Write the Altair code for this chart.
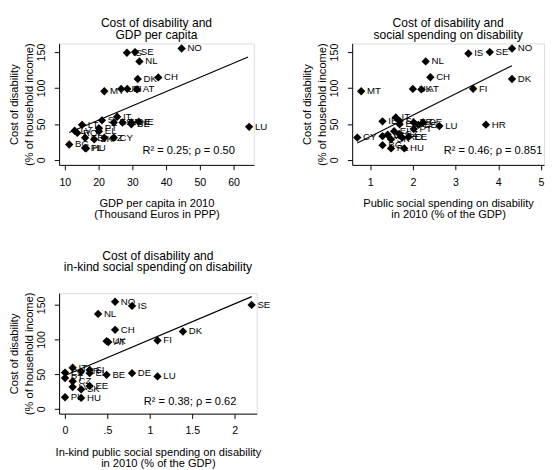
import altair as alt
import pandas as pd

FONT = "Liberation Sans"

# ---------------- data ----------------
# Panel 1: GDP per capita (thousand euros PPP) vs cost of disability
p1_codes = ["IS", "SE", "NO", "NL", "DK", "CH", "AT", "MT", "UK", "FI", "LU",
            "SI", "IT", "ES", "FR", "BE", "DE", "IE", "LT", "LV", "RO", "EE",
            "PT", "EL", "SK", "CZ", "CY", "BG", "PL", "HU"]
p1_gdp = [28.4, 30.8, 44.6, 32.1, 31.6, 37.7, 31.4, 21.7, 26.7, 28.5, 64.6,
          21.0, 25.5, 24.5, 27.1, 29.7, 29.7, 31.9, 15.1, 12.9, 13.7, 16.0,
          20.1, 20.1, 18.7, 21.7, 24.5, 11.3, 16.0, 16.3]
p1_cost = [149, 150, 155, 137, 112.5, 114.7, 98, 95.5, 98.7, 98.7, 46,
           55, 60, 52, 52, 49.5, 52, 53, 48.7, 40.6, 37.5, 30.8,
           44, 39.7, 28.6, 30.8, 30.8, 21.4, 16.5, 16]
p1_fit_x = [11.3, 64.3]
p1_fit_y = [38, 143]

# Panel 2: public social spending on disability (% GDP)
p2_codes = ["NO", "SE", "IS", "NL", "CH", "DK", "FI", "UK", "AT", "MT", "HR",
            "LU", "CY", "IE", "IT", "SI", "ES", "FR", "DE", "BE", "PT", "LV",
            "LT", "EL", "CZ", "SK", "RO", "EE", "BG", "PL", "HU"]
p2_spend = [4.32, 3.80, 3.30, 2.30, 2.41, 4.32, 3.41, 2.00, 2.20, 0.79, 3.71,
            2.62, 0.70, 1.29, 1.60, 1.69, 1.69, 2.02, 2.24, 2.13, 2.02, 1.29,
            1.41, 1.56, 1.68, 1.49, 1.75, 1.90, 1.29, 1.49, 1.80]
p2_cost = [155, 150, 148, 137, 115, 112.5, 99, 98.7, 98, 95.5, 49,
           47, 31, 53.6, 59, 54, 49.5, 52, 52, 48.7, 43, 33,
           35, 40, 36, 28.6, 31, 32, 20.5, 16, 16]
p2_fit_x = [0.70, 4.32]
p2_fit_y = [23.6, 131]

# Panel 3: in-kind public social spending on disability (% GDP)
p3_codes = ["NO", "IS", "SE", "NL", "CH", "DK", "FI", "UK", "AT", "BE", "DE",
            "LU", "IT", "FR", "SI", "EL", "ES", "PT", "CZ", "LV", "SK", "EE",
            "PL", "HU"]
p3_inkind = [0.59, 0.79, 2.20, 0.39, 0.59, 1.39, 1.09, 0.49, 0.51, 0.49, 0.79,
             1.09, 0.09, 0.19, 0.29, 0.29, 0.00, 0.00, 0.09, 0.09, 0.19, 0.29,
             0.00, 0.19]
p3_cost = [154.6, 148.6, 150, 137, 114, 111.6, 98.6, 97.7, 96.3, 49, 51.4,
           46.8, 59.3, 53.7, 56, 51.4, 52.3, 44.4, 39.8, 31.5, 28, 33,
           16.7, 15.7]
p3_fit_x = [0.0, 2.2]
p3_fit_y = [48, 162]

titles = [["Cost of disability and", "GDP per capita"],
          ["Cost of disability and", "social spending on disability"],
          ["Cost of disability and", "in-kind social spending on disability"]]
x_titles = [["GDP per capita in 2010", "(Thousand Euros in PPP)"],
            ["Public social spending on disability", "in 2010 (% of the GDP)"],
            ["In-kind public social spending on disability", "in 2010 (% of the GDP)"]]
y_title = ["Cost of disability", "(% of household income)"]
annotations = ["R\u00b2 = 0.25; \u03c1 = 0.50",
               "R\u00b2 = 0.46; \u03c1 = 0.851",
               "R\u00b2 = 0.38; \u03c1 = 0.62"]
ann_x = [60.4, 5.03, 2.02]
ann_y = [12, 12, 9.7]
y_ticks = [0, 50, 100, 150]
x_ticks = [[10, 20, 30, 40, 50, 60], [1, 2, 3, 4, 5], [0, 0.5, 1, 1.5, 2]]


def panel(title, xtitle, codes, xs, ys, fx, fy, ann, ax, ay, xdom, ydom,
          xt, width, height, toffset, xformat, label_expr=None):
    df = pd.DataFrame({"code": codes, "x": xs, "cost": ys})
    fit = pd.DataFrame({"x": fx, "cost": fy})
    adf = pd.DataFrame({"x": [ax], "cost": [ay], "t": [ann]})

    axis_common = dict(grid=False, domainColor="black", tickColor="black",
                       labelColor="black", titleColor="black", tickSize=5,
                       domainWidth=1, tickWidth=1,
                       labelFont=FONT, titleFont=FONT, labelFontSize=11,
                       titleFontSize=11.5, titleFontWeight="normal",
                       labelFlush=False, labelOverlap=False)
    xaxis_kw = dict(axis_common, values=xt, title=xtitle, labelPadding=7,
                    titlePadding=11, format=xformat, titleLineHeight=12)
    if label_expr:
        xaxis_kw["labelExpr"] = label_expr
    xenc = alt.X("x:Q", scale=alt.Scale(domain=xdom, nice=False, zero=False),
                 axis=alt.Axis(**xaxis_kw))
    yenc = alt.Y("cost:Q", scale=alt.Scale(domain=ydom, nice=False, zero=False),
                 axis=alt.Axis(**axis_common, values=y_ticks, title=y_title,
                               labelAngle=270, labelPadding=8, titlePadding=2,
                               titleLineHeight=15))

    pts = alt.Chart(df).mark_point(shape="diamond", filled=True, size=75,
                                   color="black", opacity=1).encode(x=xenc, y=yenc)
    txt = alt.Chart(df).mark_text(align="left", baseline="middle", dx=6,
                                  fontSize=10, font=FONT, color="black").encode(
        x="x:Q", y="cost:Q", text="code:N")
    line = alt.Chart(fit).mark_line(color="black", strokeWidth=1.2).encode(
        x="x:Q", y="cost:Q")
    atext = alt.Chart(adf).mark_text(align="right", baseline="middle",
                                     fontSize=11.5, font=FONT, color="black").encode(
        x="x:Q", y="cost:Q", text="t:N")
    return alt.layer(line, pts, txt, atext).properties(
        width=width, height=height,
        title=alt.Title(title, font=FONT, fontSize=12.5, fontWeight="normal",
                        color="black", anchor="middle", frame="group",
                        offset=toffset, lineHeight=12))


c1 = panel(titles[0], x_titles[0], p1_codes, p1_gdp, p1_cost, p1_fit_x, p1_fit_y,
           annotations[0], ann_x[0], ann_y[0], [8.3, 66], [-7, 162],
           x_ticks[0], 202, 126, 2, "d")
c2 = panel(titles[1], x_titles[1], p2_codes, p2_spend, p2_cost, p2_fit_x, p2_fit_y,
           annotations[1], ann_x[1], ann_y[1], [0.58, 5.07], [-7, 162],
           x_ticks[1], 199, 126, 2, "d")
c3 = panel(titles[2], x_titles[2], p3_codes, p3_inkind, p3_cost, p3_fit_x, p3_fit_y,
           annotations[2], ann_x[2], ann_y[2], [-0.07, 2.26], [-7, 167],
           x_ticks[2], 205, 125, 19, "~r",
           label_expr="datum.value == 0.5 ? '.5' : datum.label")

chart = alt.vconcat(alt.hconcat(c1, c2, spacing=34), c3, spacing=29).properties(
    padding=0
).configure_view(stroke=None).configure(background="white")

chart.save("out.html", embed_options={"renderer": "svg", "actions": False})
